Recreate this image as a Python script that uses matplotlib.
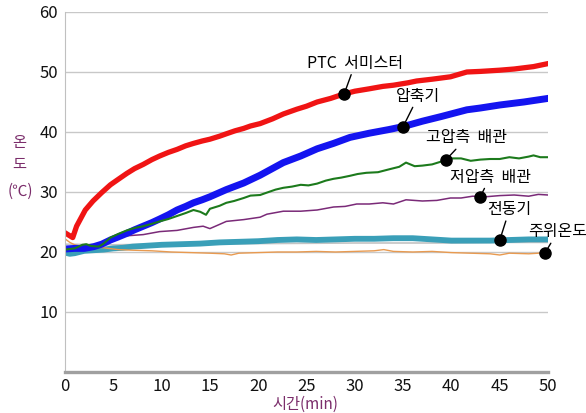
import numpy as np
import matplotlib
matplotlib.use('Agg')
import matplotlib.pyplot as plt

plt.rcParams['font.family'] = ['Noto Sans CJK KR', 'DejaVu Sans']

# time (min) and temperature (C) for each sensor
t_ptc = [0, 0.5, 0.8, 1.2, 1.6, 2.1, 2.9, 3.8, 4.7, 5.5, 6.4, 7.2, 8.1, 9.0, 9.8, 10.7, 11.6,
         12.5, 13.3, 14.2, 15.0, 16.0, 16.7, 17.6, 18.5, 19.2, 20.2, 21.5, 22.6, 24.0, 25.0,
         26.1, 27.5, 28.8, 30.0, 31.5, 32.9, 34.0, 35.5, 36.4, 38.0, 39.9, 41.6, 43.0, 45.0,
         46.5, 48.5, 50]
v_ptc = [23.2, 22.7, 22.4, 24.3, 25.5, 27.0, 28.5, 29.9, 31.2, 32.1, 33.1, 33.9, 34.6, 35.4,
         36.0, 36.6, 37.1, 37.7, 38.1, 38.5, 38.8, 39.3, 39.7, 40.2, 40.6, 41.0, 41.4, 42.2,
         43.0, 43.8, 44.3, 45.0, 45.6, 46.3, 46.8, 47.2, 47.6, 47.8, 48.2, 48.5, 48.8, 49.2,
         50.0, 50.1, 50.3, 50.5, 50.9, 51.4]

t_comp = [0, 1, 2, 3, 3.8, 4.7, 5.5, 6.4, 7.2, 8.1, 9.0, 9.8, 10.7, 11.6, 12.5, 13.3, 14.2,
          15.0, 16.7, 18.5, 20.2, 22.6, 24.4, 26.1, 27.8, 29.5, 31.5, 33.5, 35.0, 37.0, 39.0,
          41.6, 43.0, 45.0, 47.5, 50]
v_comp = [20.5, 20.6, 20.6, 20.9, 21.3, 22.0, 22.5, 23.1, 23.7, 24.3, 24.9, 25.5, 26.2, 27.0,
          27.6, 28.2, 28.7, 29.2, 30.4, 31.5, 32.8, 34.9, 36.0, 37.2, 38.1, 39.1, 39.8, 40.4,
          40.9, 41.8, 42.6, 43.7, 44.0, 44.5, 45.0, 45.6]

t_high = [0, 1, 1.8, 2.2, 2.7, 3.5, 4.0, 4.7, 5.5, 6.4, 7.2, 8.1, 9.0, 9.8, 10.7, 11.6, 12.5,
          13.3, 14.0, 14.6, 15.0, 16.0, 16.7, 17.5, 18.5, 19.2, 20.2, 20.9, 21.8, 22.6, 23.5,
          24.4, 25.2, 26.1, 27.0, 27.8, 28.6, 29.5, 30.3, 31.2, 32.4, 33.6, 34.6, 35.3, 36.2,
          37.0, 38.0, 39.0, 40.0, 41.0, 42.0, 43.0, 44.0, 45.0, 46.0, 47.0, 48.0, 48.5, 49.2, 50]
v_high = [20.4, 20.6, 21.2, 21.3, 21.0, 20.9, 21.4, 22.4, 23.0, 23.6, 24.0, 24.3, 24.7, 25.1,
          25.5, 26.0, 26.5, 27.0, 26.7, 26.2, 27.2, 27.7, 28.2, 28.5, 29.0, 29.4, 29.5, 29.9,
          30.4, 30.7, 30.9, 31.2, 31.1, 31.4, 31.9, 32.2, 32.4, 32.7, 33.0, 33.2, 33.3, 33.8,
          34.2, 34.9, 34.3, 34.4, 34.6, 35.1, 35.6, 35.6, 35.2, 35.4, 35.5, 35.5, 35.8, 35.6,
          35.9, 36.1, 35.8, 35.8]

t_low = [0, 2, 3, 4, 5, 6.4, 8.1, 9.8, 11.6, 13.3, 14.3, 15.0, 16.0, 16.7, 18.5, 20.2, 20.9,
         22.6, 24.4, 26.1, 27.8, 29.0, 30.2, 31.5, 32.9, 34.0, 35.3, 37.0, 38.5, 39.9, 41.0,
         42.2, 43.5, 45.0, 46.5, 48.0, 49.0, 50]
v_low = [20.4, 20.6, 21.0, 21.6, 22.2, 22.7, 22.9, 23.4, 23.6, 24.1, 24.3, 23.9, 24.6, 25.1,
         25.4, 25.8, 26.3, 26.8, 26.8, 27.0, 27.5, 27.6, 28.0, 28.0, 28.2, 28.0, 28.7, 28.5,
         28.6, 29.0, 29.0, 29.3, 29.2, 29.4, 29.5, 29.3, 29.6, 29.5]

t_motor = [0, 0.5, 1, 1.5, 2, 3, 4, 5, 6, 7, 8, 9, 10, 12, 14, 16, 18, 20, 22, 24, 26, 28,
           30, 32, 34, 36, 38, 40, 42, 44, 46, 48, 50]
v_motor = [19.9, 19.7, 19.8, 20.0, 20.2, 20.3, 20.4, 20.6, 20.7, 20.9, 21.0, 21.1, 21.2, 21.3,
           21.4, 21.6, 21.7, 21.8, 22.0, 22.1, 22.0, 22.1, 22.2, 22.2, 22.3, 22.3, 22.1, 21.9,
           21.9, 21.9, 22.0, 22.1, 22.1]

t_amb = [0, 0.5, 1, 1.5, 2.5, 3.5, 4.5, 5.5, 7, 9, 11, 13, 15, 16.5, 17.2, 18, 20, 22, 24, 26,
         28, 30, 32, 33, 34, 36, 38, 40, 42, 44, 45, 46, 48, 50]
v_amb = [22.2, 21.6, 21.2, 21.0, 20.9, 20.8, 20.6, 20.4, 20.3, 20.2, 20.0, 19.9, 19.8, 19.7,
         19.5, 19.8, 19.9, 20.0, 20.0, 20.1, 20.0, 20.1, 20.2, 20.4, 20.1, 20.0, 20.1, 19.9,
         19.8, 19.7, 19.5, 19.8, 19.7, 19.9]

t_gray = [0, 5, 10, 20, 30, 40, 45, 50]
v_gray = [21.3, 21.2, 21.3, 21.4, 21.5, 21.5, 21.6, 21.6]

xticks = list(range(0, 51, 5))
yticks = [10, 20, 30, 40, 50, 60]

fig = plt.figure(figsize=(5.86, 4.13), dpi=100)
ax = fig.add_axes([65 / 586, 1 - 372 / 413, (548 - 65) / 586, (372 - 12) / 413])

ax.plot(t_gray, v_gray, color='#c4c4c4', lw=1.2)
ax.plot(t_motor, v_motor, color='#3a9fb8', lw=4.2)
ax.plot(t_amb, v_amb, color='#e89a50', lw=1.0)
ax.plot(t_low, v_low, color='#7a2a78', lw=1.1)
ax.plot(t_comp, v_comp, color='#1414f0', lw=5.0)
ax.plot(t_high, v_high, color='#1c7a1c', lw=1.5)
ax.plot(t_ptc, v_ptc, color='#f01414', lw=3.8)

# callouts: (label, series t, series v, dot time, text centre offset in points)
callouts = [
    ('PTC  서미스터', t_ptc, v_ptc, 28.9, (8, 22)),
    ('압축기', t_comp, v_comp, 35.0, (11, 22)),
    ('고압측  배관', t_high, v_high, 39.4, (15, 16)),
    ('저압측  배관', t_low, v_low, 43.0, (7, 14)),
    ('전동기', t_motor, v_motor, 45.0, (7, 22)),
    ('주위온도', t_amb, v_amb, 49.7, (9, 15)),
]
for label, ts, vs, tc, off in callouts:
    vc = np.interp(tc, ts, vs)
    ax.plot(tc, vc, 'o', color='k', ms=8, zorder=5, clip_on=False)
    ax.annotate(label, xy=(tc, vc), xytext=off, textcoords='offset points',
                ha='center', va='center', fontsize=11.5,
                arrowprops=dict(arrowstyle='-', color='k', lw=1, shrinkA=0, shrinkB=0),
                zorder=6)

ax.set_xlim(0, 50)
ax.set_ylim(0, 60)
ax.set_xticks(xticks)
ax.set_yticks(yticks)
ax.tick_params(length=0, labelsize=12, colors='#111111')
ax.tick_params(axis='x', pad=4)
ax.tick_params(axis='y', pad=5)
ax.grid(axis='y', color='#c8c8c8', lw=1)
ax.set_axisbelow(True)
for s in ['top', 'right']:
    ax.spines[s].set_visible(False)
ax.spines['left'].set_color('#c0c0c0')
ax.spines['bottom'].set_color('#a0a0a0')
ax.spines['bottom'].set_linewidth(2.4)

lab_color = '#7b2d6b'
fig.text(19 / 586, 1 - 143 / 413, '온', ha='center', va='center', fontsize=11, color=lab_color)
fig.text(19 / 586, 1 - 164 / 413, '도', ha='center', va='center', fontsize=11, color=lab_color)
fig.text(20 / 586, 1 - 191 / 413, '(℃)', ha='center', va='center', fontsize=11, color=lab_color)
fig.text(305 / 586, 1 - 404 / 413, '시간(min)', ha='center', va='center', fontsize=11,
         color=lab_color)

fig.savefig('out.png', dpi=100)
